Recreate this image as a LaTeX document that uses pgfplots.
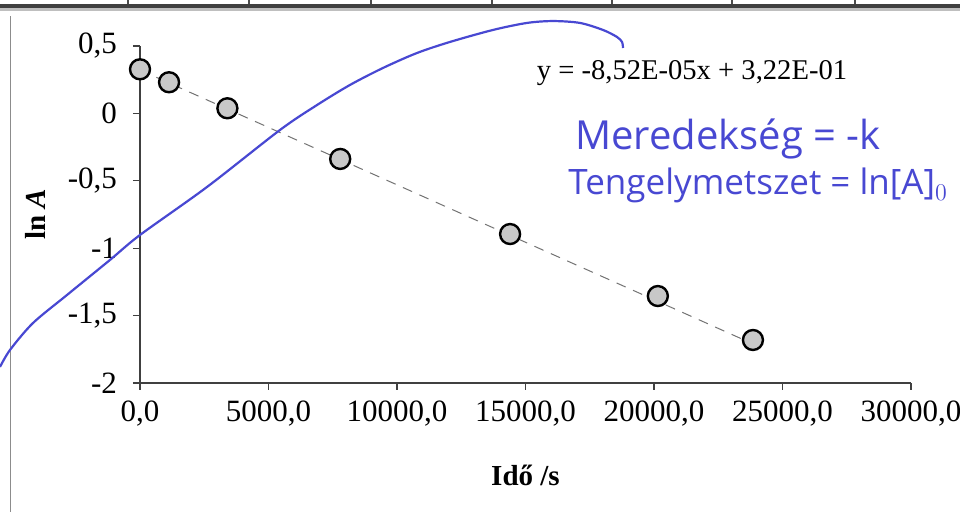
\documentclass[border=0pt]{standalone}
\usepackage{fontspec}
\setmainfont{Liberation Serif}
\newfontfamily\hand{Open Sans}
\usepackage{pgfplots}
\pgfplotsset{compat=1.18}
\definecolor{pen}{RGB}{72,72,210}
\definecolor{markfill}{RGB}{200,200,200}
\begin{document}
\begin{tikzpicture}[x=1pt,y=1pt]
\useasboundingbox (0,0) rectangle (480,256);
\fill[white] (0,0) rectangle (480,256);
% scan artefacts (table border above the chart, page edge)
\fill[black!75] (0,252) rectangle (480,254);
\fill[black!25] (0,250.5) rectangle (480,252);
\foreach \xx in {64,124.5,185.5,246,306,366,427.5} \draw[black!70,line width=0.6pt] (\xx,254) -- (\xx,256);
\draw[black!45,line width=0.5pt] (5,0) -- (5,248);
\begin{axis}[
  at={(70pt,64.5pt)}, anchor=south west,
  scale only axis, width=385.5pt, height=168.5pt,
  xmin=0, xmax=30000, ymin=-2, ymax=0.5,
  axis lines=left, axis line style={-, black!75, line width=0.6pt},
  clip=false,
  xtick={0,5000,...,30000}, ytick={-2,-1.5,...,0.5},
  scaled x ticks=false, scaled y ticks=false,
  tick align=outside, major tick length=3.5pt,
  tick style={black!75, line width=0.6pt},
  /pgf/number format/assume math mode=true,
  tick label style={font=\fontsize{15.5}{17}\selectfont},
  xticklabel style={yshift=-2pt, /pgf/number format/fixed, /pgf/number format/fixed zerofill, /pgf/number format/precision=1, /pgf/number format/use comma, /pgf/number format/1000 sep={}},
  yticklabel style={xshift=-4.5pt, /pgf/number format/fixed, /pgf/number format/precision=1, /pgf/number format/use comma},
  xlabel={\textbf{Idő /s}},
  ylabel={\textbf{ln \textit{A}}},
  label style={font=\fontsize{14.5}{16}\selectfont},
  xlabel style={at={(axis description cs:0.5,0)}, anchor=center, yshift=-46pt},
  ylabel style={at={(axis description cs:-0.1362,0.5)}, anchor=center},
]
\addplot[black!55, line width=0.5pt, dash pattern=on 5pt off 4pt] coordinates {(0,0.322) (23850,-1.710)};
\addplot[pen, line width=1.1pt, smooth, tension=0.5] coordinates {
(-5447,-1.881) (-5058,-1.755) (-4163,-1.555) (-2840,-1.347) (-1167,-1.087)
(0,-0.902) (2607,-0.546) (5447,-0.123) (6887,0.062) (8171,0.211)
(9455,0.337) (10778,0.448) (12062,0.530) (13735,0.619) (15058,0.671)
(16070,0.685) (17120,0.671) (18015,0.619) (18560,0.567) (18755,0.530) (18794,0.485)};
\addplot[only marks, mark=*, mark size=5pt, mark options={fill=markfill, draw=black, line width=1.2pt}] coordinates {
(0,0.327) (1130,0.231) (3400,0.038) (7790,-0.338) (14400,-0.895) (20150,-1.355) (23850,-1.681)};
\node[font=\fontsize{14.3}{16}\selectfont] at (axis cs:21478,0.300) {y = -8,52E-05x + 3,22E-01};
\end{axis}
\node[anchor=base west, text=pen, font=\hand\fontsize{20}{24}\selectfont, inner sep=0pt] at (287.5,181) {Meredekség = -k};
\node[anchor=base west, text=pen, font=\hand\fontsize{17.5}{21}\selectfont, inner sep=0pt] at (284,158.5) {Tengelymetszet = ln[A]$_0$};
\end{tikzpicture}
\end{document}
